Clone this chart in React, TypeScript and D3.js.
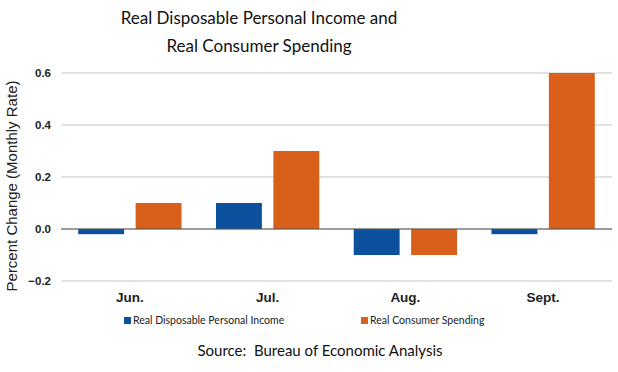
import * as d3 from "d3";

const months = ["Jun.", "Jul.", "Aug.", "Sept."];
const incomeValues = [-0.02, 0.1, -0.1, -0.02];
const spendingValues = [0.1, 0.3, -0.1, 0.6];
const yTicks = [-0.2, 0.0, 0.2, 0.4, 0.6];
const seriesNames = ["Real Disposable Personal Income", "Real Consumer Spending"];
const seriesColors = ["#0b519e", "#d9601a"];

const width = 618;
const height = 372;
const left = 61;
const right = 612;

export default function App() {
  const x = d3.scaleBand().domain(months).range([left, right]).paddingInner(0.25).paddingOuter(0.125);
  const sub = d3.scaleBand().domain(["0", "1"]).range([0, x.bandwidth()]).paddingInner(0.2);
  const y = d3.scaleLinear().domain([-0.2, 0.6]).range([281, 73]);
  const fmt = d3.format(".1f");
  const series = [incomeValues, spendingValues];

  return (
    <svg
      width={width}
      height={height}
      style={{ position: "absolute", left: 0, top: 0, background: "#fff" }}
    >
      <text x={259} y={24} textAnchor="middle" fontFamily="Lato, 'Open Sans', sans-serif" fontSize={17} fill="#111">
        Real Disposable Personal Income and
      </text>
      <text x={259} y={52} textAnchor="middle" fontFamily="Lato, 'Open Sans', sans-serif" fontSize={17} fill="#111">
        Real Consumer Spending
      </text>

      {yTicks.map((t) => (
        <g key={t}>
          <line x1={left} x2={right} y1={y(t)} y2={y(t)} stroke="#d9d9d9" strokeWidth={1.5} />
          <text
            x={51}
            y={y(t)}
            dy="0.35em"
            textAnchor="end"
            fontFamily="'Liberation Sans', Arial, sans-serif"
            fontWeight="bold"
            fontSize={11.5}
            fill="#222"
          >
            {fmt(t)}
          </text>
        </g>
      ))}

      <text
        transform={`translate(17,186) rotate(-90)`}
        textAnchor="middle"
        fontFamily="'Liberation Sans', Arial, sans-serif"
        fontSize={15}
        fill="#222"
      >
        Percent Change (Monthly Rate)
      </text>

      {months.map((m, i) => (
        <g key={m} transform={`translate(${x(m)},0)`}>
          {series.map((vals, s) => {
            const v = vals[i];
            return (
              <rect
                key={s}
                x={sub(String(s))}
                width={sub.bandwidth()}
                y={y(Math.max(0, v))}
                height={Math.abs(y(v) - y(0))}
                fill={seriesColors[s]}
              />
            );
          })}
          <text
            x={x.bandwidth() / 2}
            y={302}
            textAnchor="middle"
            fontFamily="'Liberation Sans', Arial, sans-serif"
            fontWeight="bold"
            fontSize={13.5}
            fill="#222"
          >
            {m}
          </text>
        </g>
      ))}

      <line x1={left} x2={right} y1={y(0)} y2={y(0)} stroke="#555" strokeWidth={1.2} />

      {seriesNames.map((name, s) => {
        const lx = s === 0 ? 124 : 361;
        return (
          <g key={name}>
            <rect x={lx} y={317} width={7} height={7} fill={seriesColors[s]} />
            <text x={lx + 9} y={324} fontFamily="Lato, 'Open Sans', sans-serif" fontSize={10.5} fill="#222">
              {name}
            </text>
          </g>
        );
      })}

      <text
        x={320}
        y={356}
        textAnchor="middle"
        fontFamily="Lato, 'Open Sans', sans-serif"
        fontSize={15}
        fill="#111"
        style={{ whiteSpace: "pre" }}
      >
        {"Source:\u00a0 Bureau of Economic Analysis"}
      </text>
    </svg>
  );
}
